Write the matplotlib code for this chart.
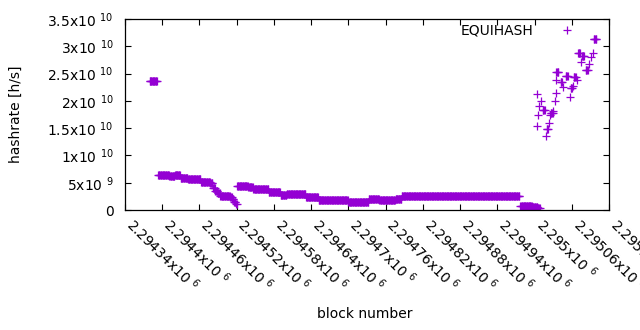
import numpy as np
import matplotlib
matplotlib.use("Agg")
import matplotlib.pyplot as plt

plt.rcParams['font.family'] = ['DejaVu Sans']
plt.rcParams['font.size'] = 10

# hashrate runs: consecutive blocks (start..end) sharing one estimate [h/s]
run_start = [2294380, 2294394, 2294412, 2294421, 2294430, 2294442, 2294463,
             2294478, 2294482, 2294486, 2294490, 2294494, 2294510, 2294513,
             2294516, 2294519, 2294521, 2294539, 2294547, 2294572, 2294591,
             2294601, 2294632, 2294652, 2294700, 2294733, 2294750, 2294776,
             2294786, 2294977, 2294996, 2295005,
             2295003, 2295004, 2295005, 2295007, 2295010, 2295013, 2295018,
             2295019, 2295023, 2295025, 2295026, 2295030, 2295032, 2295034,
             2295035, 2295035, 2295042, 2295045, 2295050, 2295056, 2295058,
             2295061, 2295063, 2295068, 2295070, 2295075, 2295076, 2295082,
             2295087, 2295090, 2295093, 2295095]
run_end = [2294392, 2294411, 2294420, 2294429, 2294441, 2294462, 2294477,
           2294481, 2294485, 2294489, 2294493, 2294509, 2294512, 2294515,
           2294518, 2294520, 2294538, 2294546, 2294571, 2294590, 2294600,
           2294631, 2294651, 2294699, 2294732, 2294749, 2294775, 2294785,
           2294975, 2294995, 2295004, 2295008,
           2295003, 2295004, 2295005, 2295007, 2295010, 2295016, 2295018,
           2295021, 2295023, 2295025, 2295029, 2295030, 2295032, 2295034,
           2295035, 2295038, 2295044, 2295045, 2295053, 2295056, 2295060,
           2295061, 2295066, 2295068, 2295073, 2295075, 2295079, 2295085,
           2295087, 2295090, 2295093, 2295099]
run_rate = [2.36e10, 6.5e9, 6.2e9, 6.4e9, 5.9e9, 5.6e9, 5.1e9,
            4.9e9, 4.0e9, 3.55e9, 3.05e9, 2.62e9, 2.4e9, 2.0e9,
            1.5e9, 1.1e9, 4.45e9, 4.15e9, 3.85e9, 3.25e9, 2.75e9,
            2.9e9, 2.3e9, 1.83e9, 1.52e9, 2.0e9, 1.78e9, 2.1e9,
            2.5e9, 6.8e8, 5.5e8, 3.7e8,
            1.54e10, 2.12e10, 1.74e10, 1.91e10, 1.99e10, 1.84e10, 1.36e10,
            1.48e10, 1.59e10, 1.74e10, 1.77e10, 1.82e10, 2.0e10, 2.15e10,
            2.38e10, 2.52e10, 2.35e10, 2.26e10, 2.46e10, 2.08e10, 2.23e10,
            2.27e10, 2.44e10, 2.38e10, 2.87e10, 2.72e10, 2.82e10, 2.57e10,
            2.67e10, 2.80e10, 2.88e10, 3.13e10]

x_ticks = [2294340, 2294400, 2294460, 2294520, 2294580, 2294640, 2294700,
           2294760, 2294820, 2294880, 2294940, 2295000, 2295060, 2295120]
x_tick_labels = ['2.29434', '2.2944', '2.29446', '2.29452', '2.29458',
                 '2.29464', '2.2947', '2.29476', '2.29482', '2.29488',
                 '2.29494', '2.295', '2.29506', '2.29512']
y_ticks = [0, 5e9, 1e10, 1.5e10, 2e10, 2.5e10, 3e10, 3.5e10]
y_tick_labels = ['0', '5x10 $^{9}$', '1x10 $^{10}$', '1.5x10 $^{10}$',
                 '2x10 $^{10}$', '2.5x10 $^{10}$', '3x10 $^{10}$', '3.5x10 $^{10}$']

blocks = np.concatenate([np.arange(s, e + 1) for s, e in zip(run_start, run_end)])
rates = np.concatenate([np.full(e - s + 1, r) for s, e, r in zip(run_start, run_end, run_rate)])

fig = plt.figure(figsize=(6.4, 3.3), dpi=100)
ax = fig.add_axes([0.1948, 0.3636, 0.7572, 0.5788])

ax.plot(blocks, rates, ls='none', marker='+', ms=5.5, mew=0.9,
        color='#9400d3', label='EQUIHASH')

ax.set_xlim(2294340, 2295120)
ax.set_ylim(0, 3.5e10)
ax.set_xticks(x_ticks)
ax.set_xticklabels([t + 'x10 $^{6}$' for t in x_tick_labels],
                   rotation=-45, ha='left', va='baseline', rotation_mode='anchor')
ax.set_yticks(y_ticks)
ax.set_yticklabels(y_tick_labels)
ax.tick_params(direction='in', length=4, width=0.8, top=True, right=True)
ax.tick_params(axis='x', pad=11.5)
ax.tick_params(axis='y', pad=8)
for s in ax.spines.values():
    s.set_linewidth(0.9)

ax.set_xlabel('block number')
ax.xaxis.set_label_coords(0.495, -0.51)
ax.set_ylabel('hashrate [h/s]')
ax.yaxis.set_label_coords(-0.21, 0.5)

ax.legend(loc='upper right', bbox_to_anchor=(0.9414, 0.975), frameon=False,
          markerfirst=False, numpoints=1, handlelength=2, handletextpad=1.45,
          borderaxespad=0, borderpad=0)

fig.savefig('out.png', dpi=100)
